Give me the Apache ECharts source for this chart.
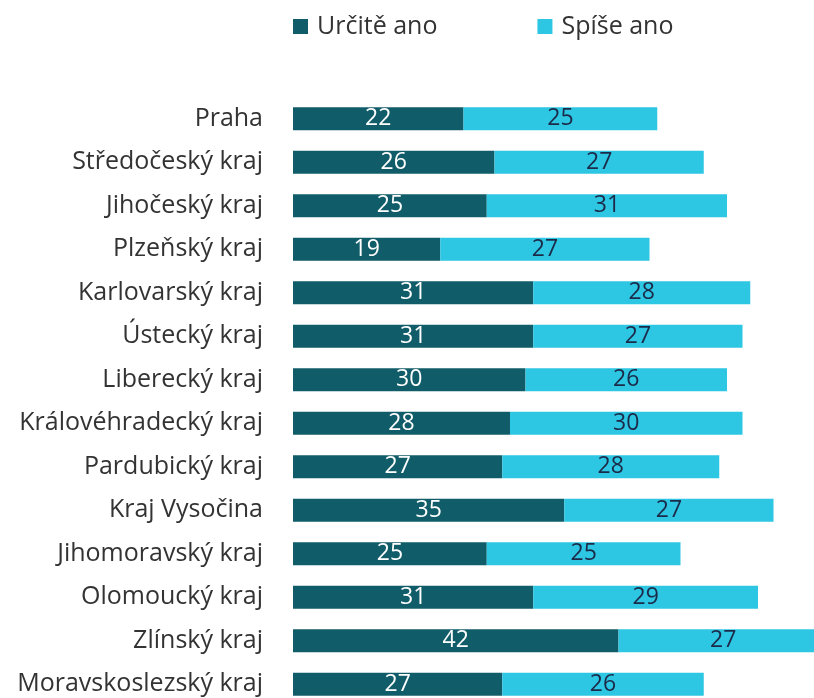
<!DOCTYPE html>
<html><head><meta charset="utf-8">
<script src="https://cdn.jsdelivr.net/npm/echarts@6/dist/echarts.min.js"></script>
<style>html,body{margin:0;padding:0;background:#fff;overflow:hidden}#c{width:814px;height:698px}</style>
</head><body><div id="c"></div>
<script>
const categories = ["Praha","Středočeský kraj","Jihočeský kraj","Plzeňský kraj","Karlovarský kraj","Ústecký kraj","Liberecký kraj","Královéhradecký kraj","Pardubický kraj","Kraj Vysočina","Jihomoravský kraj","Olomoucký kraj","Zlínský kraj","Moravskoslezský kraj"];
const urciteAno = [22,26,25,19,31,31,30,28,27,35,25,31,42,27];
const spiseAno = [25,27,31,27,28,27,26,30,28,27,25,29,27,26];
const seriesNames = ["Určitě ano","Spíše ano"];

const font = "'Open Sans', 'Noto Sans', sans-serif";
const chart = echarts.init(document.getElementById('c'));
chart.setOption({
  animation:false,
  legend:{
    data:seriesNames, top:9, left:288, itemGap:100, itemWidth:15, itemHeight:15,
    icon:'rect', textStyle:{fontFamily:font, fontSize:25, color:'#333', padding:[0,0,0,4]}
  },
  grid:{left:293, top:97, width:542.5, height:609, outerBoundsMode:'none', containLabel:false},
  xAxis:{type:'value', min:0, max:70, show:false},
  yAxis:{type:'category', data:categories, inverse:true,
    axisLine:{show:false}, axisTick:{show:false},
    axisLabel:{fontFamily:font, fontSize:25, color:'#333', margin:30}},
  series:[
    {name:seriesNames[0], type:'bar', stack:'a', data:urciteAno, barWidth:23,
     itemStyle:{color:'#115C69'},
     label:{show:true, position:'inside', color:'#fff', fontFamily:font, fontSize:23}},
    {name:seriesNames[1], type:'bar', stack:'a', data:spiseAno, barWidth:23,
     itemStyle:{color:'#2DC6E3'},
     label:{show:true, position:'inside', color:'#1B2A48', fontFamily:font, fontSize:23}}
  ]
});
</script></body></html>
